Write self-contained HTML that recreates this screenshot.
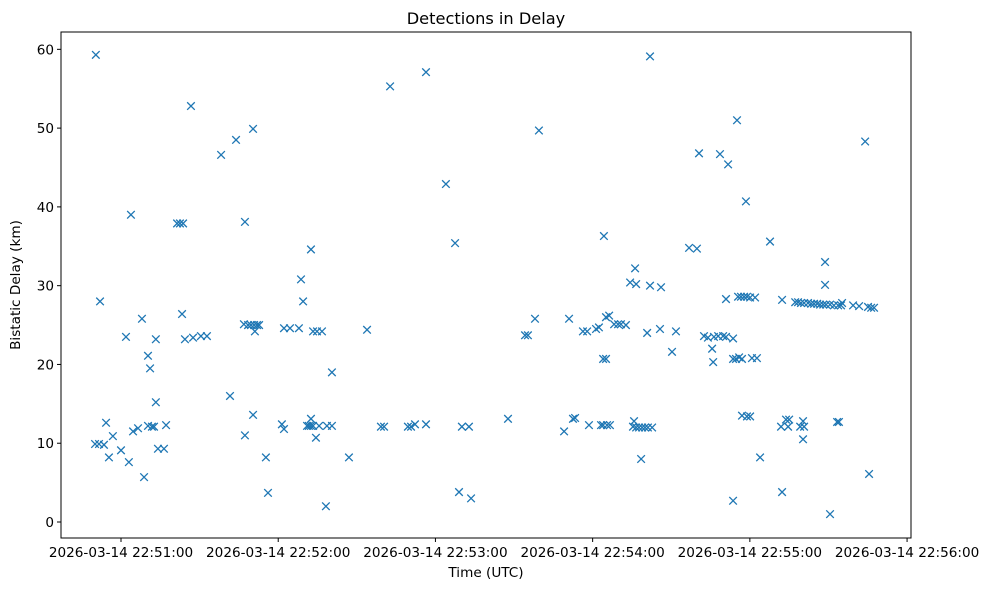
<!DOCTYPE html>
<html><head><meta charset="utf-8"><style>
html,body{margin:0;padding:0;background:#fff;}
svg{display:block;font-family:"DejaVu Sans","Liberation Sans",sans-serif;}
</style></head><body>
<svg id="chart" width="989" height="590" viewBox="0 0 989 590" xmlns="http://www.w3.org/2000/svg">
<rect x="0" y="0" width="989" height="590" fill="#fff"/>
<text x="486" y="24" font-size="16.2" text-anchor="middle" fill="#000">Detections in Delay</text>
<g id="marks"></g>
<rect x="61" y="32" width="850" height="506" fill="none" stroke="#000" stroke-width="1"/>
<g id="xaxis"></g>
<g id="yaxis"></g>
<text x="486" y="577" font-size="13.6" text-anchor="middle" fill="#000">Time (UTC)</text>
<text x="0" y="0" font-size="13.6" text-anchor="middle" fill="#000" transform="translate(20,285) rotate(-90)">Bistatic Delay (km)</text>
</svg>
<script>
// seconds after 2026-03-14 22:50:00 UTC
const times = [50.4,52.0,50.1,51.6,53.5,54.3,55.4,56.9,60.0,61.9,63.0,63.8,64.6,66.5,68.0,68.8,70.3,71.1,70.3,71.8,72.6,73.3,73.3,74.1,76.4,77.2,81.4,82.5,83.7,83.3,84.4,87.5,90.5,92.8,86.7,98.2,101.6,103.9,107.3,107.3,106.9,108.5,109.6,110.8,111.9,112.7,110.4,110.4,111.1,115.3,116.1,121.4,122.2,122.2,124.5,127.9,128.7,129.5,132.5,131.0,131.7,132.5,133.3,132.5,133.3,134.8,136.7,134.4,135.6,138.6,140.5,138.2,140.5,147.0,153.9,159.2,160.4,162.7,169.5,170.7,172.2,176.4,176.4,184.0,187.5,189.0,190.1,192.8,193.6,207.7,214.2,215.3,218.0,219.5,229.1,231.0,232.5,233.3,236.3,237.9,238.6,241.3,242.4,243.2,244.0,244.3,244.0,245.1,245.1,246.3,245.5,246.6,248.2,249.7,250.8,252.7,254.3,256.2,256.6,255.8,255.4,256.6,257.7,258.9,260.0,261.1,262.7,258.5,260.8,261.9,261.9,266.1,265.7,270.3,271.8,276.8,279.8,280.6,282.5,284.0,285.6,286.3,286.0,287.9,289.8,290.9,288.6,291.7,290.9,293.6,293.6,295.1,293.6,294.7,295.9,297.0,295.5,296.6,297.8,298.9,300.1,297.0,298.9,300.1,298.5,300.8,302.7,302.0,303.9,307.7,311.9,312.3,312.3,313.8,315.0,314.6,317.3,318.4,319.5,320.7,322.2,323.4,324.5,325.7,326.8,328.0,329.1,330.6,332.1,333.7,334.8,319.2,320.3,320.7,320.3,328.7,328.7,330.6,333.3,334.0,335.2,339.4,341.7,344.0,345.1,346.3,347.4,345.5];
const delays = [59.3,28.0,9.9,9.9,9.8,12.6,8.2,10.9,9.1,23.5,7.6,39.0,11.5,11.9,25.8,5.7,21.1,19.5,12.2,12.1,12.1,23.2,15.2,9.3,9.3,12.3,37.9,37.9,37.9,26.4,23.2,23.4,23.6,23.6,52.8,46.6,16.0,48.5,38.1,11.0,25.1,25.0,25.0,25.0,25.0,25.0,49.9,13.6,24.2,8.2,3.7,12.4,11.8,24.6,24.6,24.6,30.8,28.0,34.6,12.2,12.2,12.2,12.2,13.1,24.2,24.2,24.2,10.7,12.2,12.2,12.2,2.0,19.0,8.2,24.4,12.1,12.1,55.3,12.1,12.1,12.4,12.4,57.1,42.9,35.4,3.8,12.1,12.1,3.0,13.1,23.7,23.7,25.8,49.7,11.5,25.8,13.1,13.2,24.2,24.2,12.3,24.5,24.7,12.3,12.3,36.3,20.7,20.7,26.0,26.2,12.3,12.3,25.1,25.1,25.1,25.0,30.4,32.2,30.2,12.8,12.1,12.0,12.0,12.0,12.0,12.0,12.0,8.0,24.0,59.1,30.0,29.8,24.5,21.6,24.2,34.8,34.7,46.8,23.6,23.4,22.0,23.5,20.3,23.6,23.6,23.5,46.7,45.4,28.3,23.3,2.7,51.0,20.7,20.7,20.9,20.7,28.6,28.6,28.6,28.6,28.5,13.5,13.4,13.4,40.7,20.8,20.8,28.5,8.2,35.6,12.1,28.2,3.8,13.0,13.0,12.1,27.9,27.9,27.8,27.8,27.8,27.7,27.7,27.7,27.6,27.6,27.6,27.6,27.5,27.5,27.5,12.1,12.8,12.1,10.5,33.0,30.1,1.0,12.7,12.7,27.8,27.5,27.4,48.3,27.3,27.2,27.2,6.1];
const xTickSecs = [60,120,180,240,300,360];
const xTickLabels = ["2026-03-14 22:51:00","2026-03-14 22:52:00","2026-03-14 22:53:00","2026-03-14 22:54:00","2026-03-14 22:55:00","2026-03-14 22:56:00"];
const yTicks = [0,10,20,30,40,50,60];

const X0=61,X1=911,Y0=538,Y1=32;
const xMin=37.1,xMax=361.5,yMin=-2.03,yMax=62.2;
function sx(s){return X0+(s-xMin)/(xMax-xMin)*(X1-X0);}
function sy(v){return Y0-(v-yMin)/(yMax-yMin)*(Y0-Y1);}
const NS="http://www.w3.org/2000/svg";
const marks=document.getElementById('marks');
for(let i=0;i<times.length;i++){
  const x=sx(times[i]),y=sy(delays[i]),r=3.8;
  const p=document.createElementNS(NS,'path');
  p.setAttribute('d',`M${x-r},${y-r}L${x+r},${y+r}M${x-r},${y+r}L${x+r},${y-r}`);
  p.setAttribute('stroke','#1f77b4');p.setAttribute('stroke-width','1.3');p.setAttribute('fill','none');
  
  
  marks.appendChild(p);
}
const xa=document.getElementById('xaxis');
xTickSecs.forEach((s,i)=>{
  const x=sx(s);
  const l=document.createElementNS(NS,'line');
  l.setAttribute('x1',x);l.setAttribute('x2',x);l.setAttribute('y1',Y0);l.setAttribute('y2',Y0+4);l.setAttribute('stroke','#000');
  
  
  xa.appendChild(l);
  const t=document.createElementNS(NS,'text');
  t.setAttribute('x',x);t.setAttribute('y',Y0+19);t.setAttribute('font-size','13.6');t.setAttribute('text-anchor','middle');
  t.textContent=xTickLabels[i];
  
  
  xa.appendChild(t);
});
const ya=document.getElementById('yaxis');
yTicks.forEach(v=>{
  const y=sy(v);
  const l=document.createElementNS(NS,'line');
  l.setAttribute('x1',X0-4);l.setAttribute('x2',X0);l.setAttribute('y1',y);l.setAttribute('y2',y);l.setAttribute('stroke','#000');
  
  
  ya.appendChild(l);
  const t=document.createElementNS(NS,'text');
  t.setAttribute('x',X0-7);t.setAttribute('y',y+5);t.setAttribute('font-size','13.6');t.setAttribute('text-anchor','end');
  t.textContent=v;
  
  
  ya.appendChild(t);
});
</script>
</body></html>
